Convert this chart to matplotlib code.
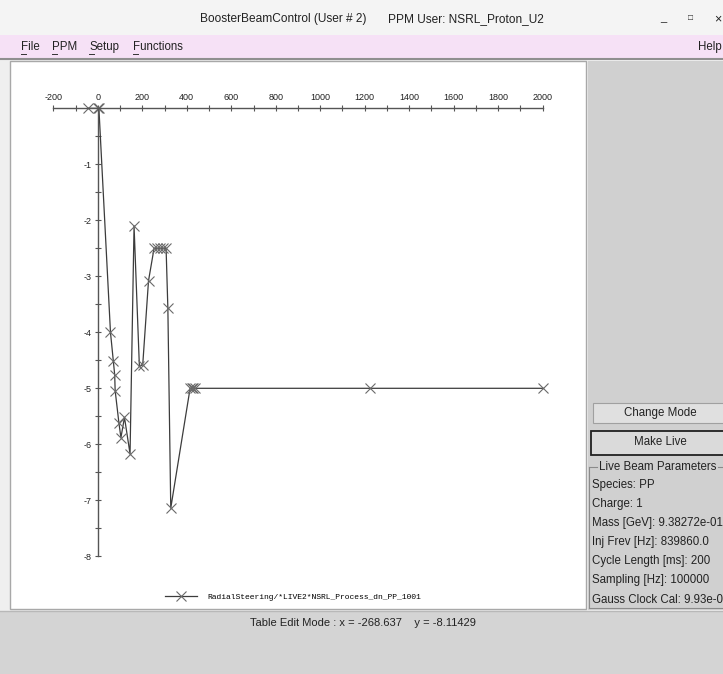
import matplotlib
matplotlib.use("Agg")
import matplotlib.pyplot as plt
from matplotlib.patches import Rectangle
from matplotlib.lines import Line2D

# table data
t_ms = [-45, 0, 5, 57, 70, 76, 78, 95, 104, 120, 145, 163, 187, 202, 228,
        253, 265, 280, 295, 307, 315, 328, 415, 422, 430, 437, 1222, 2000]
value = [0, 0, 0, -4.0, -4.52, -4.76, -5.04, -5.62, -5.88, -5.52, -6.17, -2.10,
         -4.61, -4.58, -3.08, -2.5, -2.5, -2.5, -2.5, -2.5, -3.57, -7.14,
         -5.0, -5.0, -5.0, -5.0, -5.0, -5.0]
series_name = "RadialSteering/*LIVE2*NSRL_Process_dn_PP_1001"

x_ticks = list(range(-200, 2001, 200))
y_ticks = [-1, -2, -3, -4, -5, -6, -7, -8]

menu_items = ["File", "PPM", "Setup", "Functions"]
params = ["Species: PP", "Charge: 1", "Mass [GeV]: 9.38272e-01",
          "Inj Frev [Hz]: 839860.0", "Cycle Length [ms]: 200",
          "Sampling [Hz]: 100000", "Gauss Clock Cal: 9.93e-0"]

plt.rcParams['axes.unicode_minus'] = False
SANS = ['Liberation Sans', 'DejaVu Sans']

W, H = 723, 674
fig = plt.figure(figsize=(W / 100, H / 100), dpi=100, facecolor='#d4d4d4')


def fx(px):
    return px / W


def fy(py):
    return 1 - py / H


def rect(x0, y0, x1, y1, fc, ec='none', lw=0.0):
    fig.add_artist(Rectangle((fx(x0), fy(y1)), (x1 - x0) / W, (y1 - y0) / H,
                             transform=fig.transFigure, fc=fc, ec=ec, lw=lw,
                             zorder=-10))


def hline(x0, x1, y, color, lw=1.0):
    fig.add_artist(Line2D([fx(x0), fx(x1)], [fy(y), fy(y)], color=color, lw=lw,
                          transform=fig.transFigure, zorder=-5))


def vline(x, y0, y1, color, lw=1.0):
    fig.add_artist(Line2D([fx(x), fx(x)], [fy(y0), fy(y1)], color=color, lw=lw,
                          transform=fig.transFigure, zorder=-5))


def label(px, py, s, size=8.3, ha='left', **kw):
    fig.text(fx(px), fy(py), s, ha=ha, va='center', fontsize=size,
             family=SANS, color='#222222', **kw)


# window chrome
rect(0, 0, W, 35, '#f4f4f4')
label(200, 19, "BoosterBeamControl (User # 2)", size=8.6)
label(388, 19, "PPM User: NSRL_Proton_U2", size=8.6)
label(663, 18, "_", size=8, ha='center')
label(690, 19, "\u25a1", size=6, ha='center', fontweight='bold')
label(718, 19, "\u00d7", size=9, ha='center')

rect(0, 35, W, 58, '#f6e1f6')
hline(0, W, 58.5, '#8f8f8f', lw=1.5)
menu_x = [21, 52, 89, 133]
for mx, item in zip(menu_x, menu_items):
    label(mx, 47, item, size=8.3)
    hline(mx, mx + 5, 54, '#333333', lw=0.7)
label(722, 47, "Help", size=8.3, ha='right')

rect(0, 60, W, 611, '#efefef')
rect(10, 61, 586, 609, 'white', ec='#a8a8a8', lw=1.0)
rect(587.5, 61, W + 2, 610, '#d0d0d0')
rect(0, 611, W, H, '#d4d4d4')
hline(0, W, 610.5, '#b8b8b8', lw=1.0)

# right panel
rect(593, 403, W + 3, 423, '#e0e0e0', ec='#a0a0a0', lw=0.8)
label(660, 413, "Change Mode", ha='center')
rect(591, 431, W + 3, 455, '#dadada', ec='#202020', lw=1.3)
label(660, 442, "Make Live", ha='center')
hline(588.5, 597, 467, '#8a8a8a', lw=0.8)
hline(718, W, 467, '#8a8a8a', lw=0.8)
vline(588.5, 467, 608, '#8a8a8a', lw=0.8)
hline(588.5, W, 608, '#8a8a8a', lw=0.8)
label(599, 467, "Live Beam Parameters")
for i, p in enumerate(params):
    label(592, 485 + i * 19.1, p)

label(250, 623, "Table Edit Mode : x = -268.637    y = -8.11429", size=8.0)

# plot area
ax = fig.add_axes([fx(53.3), fy(556.3), (542.7 - 53.3) / W, (556.3 - 108.3) / H])
ax.set_facecolor('none')
ax.plot(t_ms, value, color='#3c3c3c', lw=0.9, marker='x', ms=7.5,
        mec='#6a6a6a', mew=0.8, clip_on=False, label=series_name)
ax.set_xlim(-200, 2000)
ax.set_ylim(-8, 0)

for s in ['right', 'bottom']:
    ax.spines[s].set_visible(False)
ax.spines['left'].set_position(('data', 0))
for s in ['top', 'left']:
    ax.spines[s].set_color('#555555')
    ax.spines[s].set_linewidth(1.0)

ax.xaxis.set_ticks_position('top')
ax.yaxis.set_ticks_position('left')
ax.set_xticks(x_ticks)
ax.set_xticks(range(-100, 2000, 200), minor=True)
ax.set_yticks(y_ticks)
ax.set_yticks([-0.5, -1.5, -2.5, -3.5, -4.5, -5.5, -6.5, -7.5], minor=True)
ax.tick_params(which='both', direction='inout', length=5, width=0.8,
               color='#555555', labelsize=6.5, labelcolor='#222222', pad=2)
for lab in ax.get_xticklabels() + ax.get_yticklabels():
    lab.set_family(SANS)

ax.legend(loc='center left', bbox_to_anchor=(fx(165), fy(596.7)),
          bbox_transform=fig.transFigure, frameon=False, numpoints=1,
          handlelength=4.0, handletextpad=1.25, borderpad=0, borderaxespad=0,
          prop={'family': ['Liberation Mono', 'DejaVu Sans Mono'], 'size': 5.8})

fig.savefig("out.png", dpi=100, facecolor=fig.get_facecolor())
